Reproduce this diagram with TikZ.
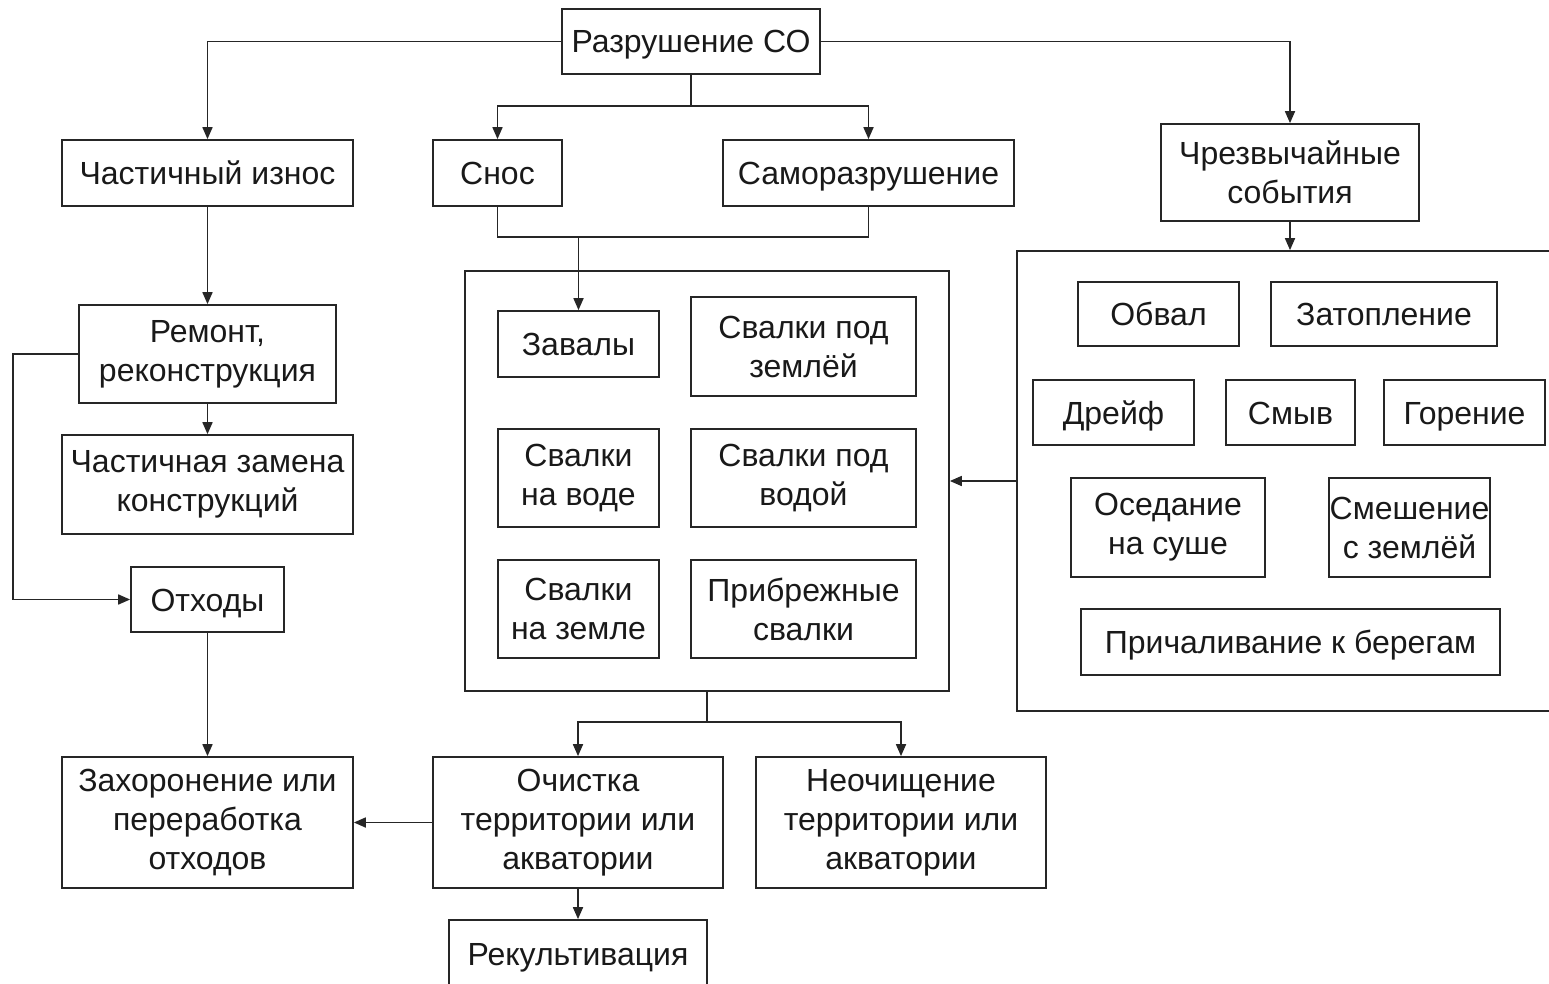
\documentclass[tikz,border=0pt]{standalone}
\usepackage{fontspec}
\setmainfont{Liberation Sans}
\usetikzlibrary{arrows.meta}

\tikzset{
  blk/.style={draw=black!85, line width=1.7pt, align=center, inner sep=0pt,
    text=black!90, font=\fontsize{32}{39}\selectfont},
  one/.style={blk, text height=30pt, text depth=7pt},
  lnk/.style={draw=black!85, line width=1.7pt},
  arr/.style={lnk, -{Triangle[length=12pt,width=10pt]}}
}

\begin{document}
\begin{tikzpicture}[x=1pt, y=-1pt]
\useasboundingbox (0,0) rectangle (1549,984);
\clip (0,0) rectangle (1549,984);
%% верхний уровень
\node[one, minimum width=258, minimum height=65] (razr) at (691,41.5) {Разрушение СО};
\node[one, minimum width=291, minimum height=66] (iznos) at (207.5,173) {Частичный износ};
\node[one, minimum width=129, minimum height=66] (snos) at (497.5,173) {Снос};
\node[one, minimum width=291, minimum height=66] (samo) at (868.5,173) {Саморазрушение};
\node[blk, minimum width=258, minimum height=97] (chs) at (1290,172.5) {Чрезвычайные\\события};
%% левая ветка
\node[blk, minimum width=257, minimum height=98] (remont) at (207.5,354) {Ремонт,\\реконструкция};
\node[blk, minimum width=291, minimum height=99] (zamena) at (207.5,484.5) {Частичная замена\\конструкций};
\node[one, minimum width=153, minimum height=65] (otkh) at (207.5,599.5) {Отходы};
\node[blk, minimum width=291, minimum height=131] (zakh) at (207.5,822.5) {Захоронение или\\переработка\\отходов};
%% средний блок
\node[blk, minimum width=484, minimum height=420] (sredn) at (707,481) {};
\node[one, minimum width=161, minimum height=66] (zaval) at (578.5,344) {Завалы};
\node[blk, minimum width=225, minimum height=99] (podzem) at (803.5,346.5) {Свалки под\\землёй};
\node[blk, minimum width=161, minimum height=98] (navode) at (578.5,478) {Свалки\\на воде};
\node[blk, minimum width=225, minimum height=98] (podvod) at (803.5,478) {Свалки под\\водой};
\node[blk, minimum width=161, minimum height=98] (nazem) at (578.5,609) {Свалки\\на земле};
\node[blk, minimum width=225, minimum height=98] (pribr) at (803.5,609) {Прибрежные\\свалки};
%% правый блок
\node[blk, minimum width=583, minimum height=460] (pravo) at (1308.5,481) {};
\node[one, minimum width=161, minimum height=64] (obval) at (1158.5,314) {Обвал};
\node[one, minimum width=226, minimum height=64] (zatop) at (1384,314) {Затопление};
\node[one, minimum width=161, minimum height=65] (dreif) at (1113.5,412.5) {Дрейф};
\node[one, minimum width=129, minimum height=65] (smyv) at (1290.5,412.5) {Смыв};
\node[one, minimum width=161, minimum height=65] (goren) at (1464.5,412.5) {Горение};
\node[blk, minimum width=194, minimum height=99] (osed) at (1168,527.5) {Оседание\\на суше};
\node[blk, minimum width=161, minimum height=99] (smesh) at (1409.5,527.5) {Смешение\\с землёй};
\node[one, minimum width=419, minimum height=66] (prich) at (1290.5,642) {Причаливание к берегам};
%% нижний уровень
\node[blk, minimum width=290, minimum height=131] (ochist) at (578,822.5) {Очистка\\территории или\\акватории};
\node[blk, minimum width=290, minimum height=131] (neoch) at (901,822.5) {Неочищение\\территории или\\акватории};
\node[one, minimum width=258, minimum height=68] (rekult) at (578,954) {Рекультивация};
%% точки ветвления
\coordinate (t1) at (691,106);
\coordinate (t2) at (578.5,237);
\coordinate (t3) at (707,722);
%% связи
\draw[arr] (razr.west) -| (iznos.north);
\draw[arr] (razr.east) -| (chs.north);
\draw[lnk] (razr.south) -- (t1);
\draw[arr] (t1) -| (snos.north);
\draw[arr] (t1) -| (samo.north);
\draw[lnk] (snos.south) |- (t2) -| (samo.south);
\draw[arr] (t2) -- (zaval.north);
\draw[arr] (chs.south) -- (chs.south |- pravo.north);
\draw[arr] (pravo.west) -- (sredn.east);
\draw[arr] (iznos.south) -- (remont.north);
\draw[arr] (remont.south) -- (zamena.north);
\draw[arr] (remont.west) -- ++(-65,0) |- (otkh.west);
\draw[arr] (otkh.south) -- (zakh.north);
\draw[lnk] (sredn.south) -- (t3);
\draw[arr] (t3) -| (ochist.north);
\draw[arr] (t3) -| (neoch.north);
\draw[arr] (ochist.west) -- (zakh.east);
\draw[arr] (ochist.south) -- (rekult.north);
\end{tikzpicture}
\end{document}
